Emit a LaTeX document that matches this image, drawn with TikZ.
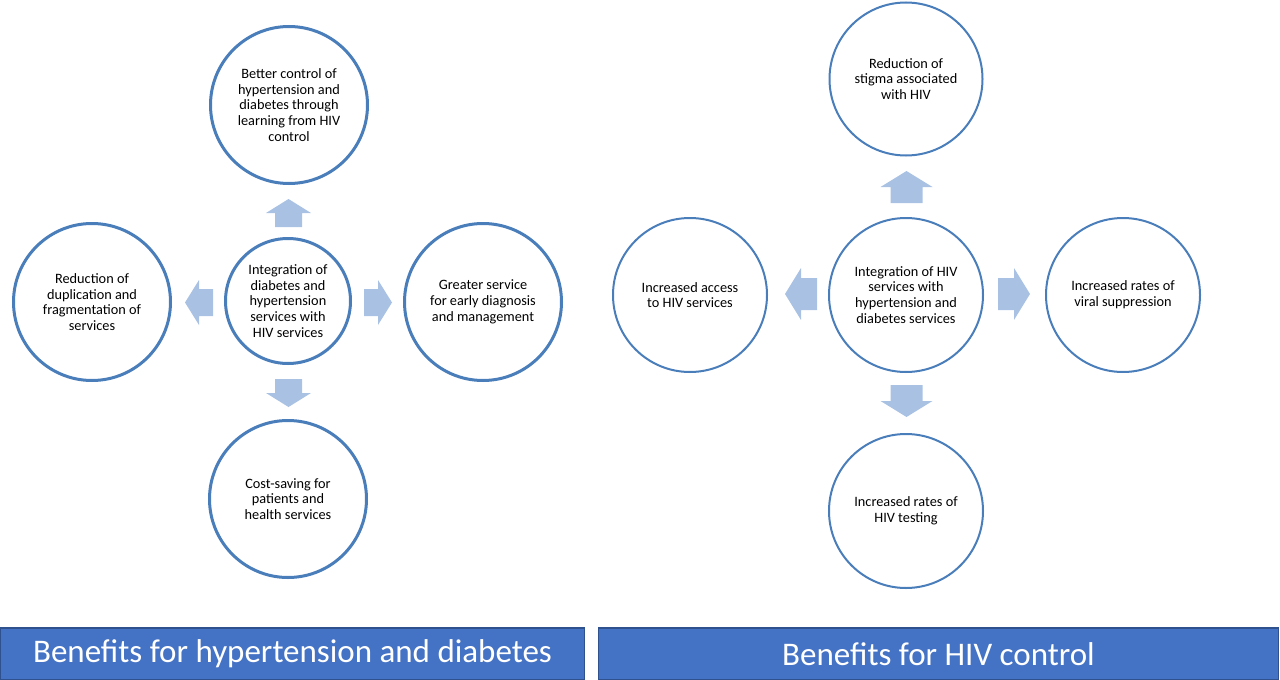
\documentclass[tikz,border=0pt]{standalone}
\usepackage{fontspec}
\setmainfont{Carlito}
\definecolor{ring}{HTML}{4A7EBB}
\definecolor{arrowfill}{HTML}{A9C2E3}
\definecolor{bannerfill}{HTML}{4472C4}
\definecolor{bannerline}{HTML}{2F528F}
\tikzset{
  ringtext/.style={circle, inner sep=0pt, align=center, text=black,
    font=\fontsize{14.3}{15.8}\selectfont},
  ringA/.style={ringtext, draw=ring, line width=3pt, minimum size=#1},
  ringB/.style={ringtext, draw=ring, line width=2pt, minimum size=#1},
  bannerbox/.style={rectangle, fill=bannerfill, draw=bannerline, line width=1.2pt,
    inner sep=0pt, text=white, font=\fontsize{33}{37}\selectfont},
  barrowA/.pic={\fill[arrowfill] (0,-13.5) -- (14,-13.5) -- (14,-22.5) -- (28,0)
      -- (14,22.5) -- (14,13.5) -- (0,13.5) -- cycle;},
  barrowB/.pic={\fill[arrowfill] (0,-16) -- (16,-16) -- (16,-26) -- (32,0)
      -- (16,26) -- (16,16) -- (0,16) -- cycle;}
}
\begin{document}
\begin{tikzpicture}[x=1pt,y=-1pt]
\useasboundingbox (0,0) rectangle (1280,680);
% ---------- left group ----------
\node[ringA=125pt] (lc) at (288,301) {Integration of\\diabetes and\\hypertension\\services with\\HIV services};
\node[ringA=157pt] (lt) at (289,105) {Better control of\\hypertension and\\diabetes through\\learning from HIV\\control};
\node[ringA=157pt] (ll) at (92,302) {Reduction of\\duplication and\\fragmentation of\\services};
\node[ringA=157pt] (lr) at (483,302) {Greater service\\for early diagnosis\\and management};
\node[ringA=157pt] (lb) at (288,499) {Cost-saving for\\patients and\\health services};
\pic[rotate=90] at (288.5,227) {barrowA};
\pic[rotate=-90] at (288.5,379) {barrowA};
\pic[rotate=180] at (213,302.5) {barrowA};
\pic at (364,302.5) {barrowA};
% ---------- right group ----------
\node[ringB=154pt] (rc) at (906,295) {Integration of HIV\\services with\\hypertension and\\diabetes services};
\node[ringB=153pt] (rt) at (906,79) {Reduction of\\stigma associated\\with HIV};
\node[ringB=154pt] (rl) at (690,295) {Increased access\\to HIV services};
\node[ringB=154pt] (rr) at (1123,295) {Increased rates of\\viral suppression};
\node[ringB=154pt] (rb) at (906,511) {Increased rates of\\HIV testing};
\pic[rotate=90] at (906.5,203) {barrowB};
\pic[rotate=-90] at (906.5,385) {barrowB};
\pic[rotate=180] at (817,294) {barrowB};
\pic at (998,294) {barrowB};
% ---------- banners ----------
\node[bannerbox, minimum width=584pt, minimum height=52pt] (bl) at (292.5,654) {Benefits for hypertension and diabetes};
\node[bannerbox, minimum width=680pt, minimum height=52pt] (br) at (938.5,654) {Benefits for HIV control};
\end{tikzpicture}
\end{document}
